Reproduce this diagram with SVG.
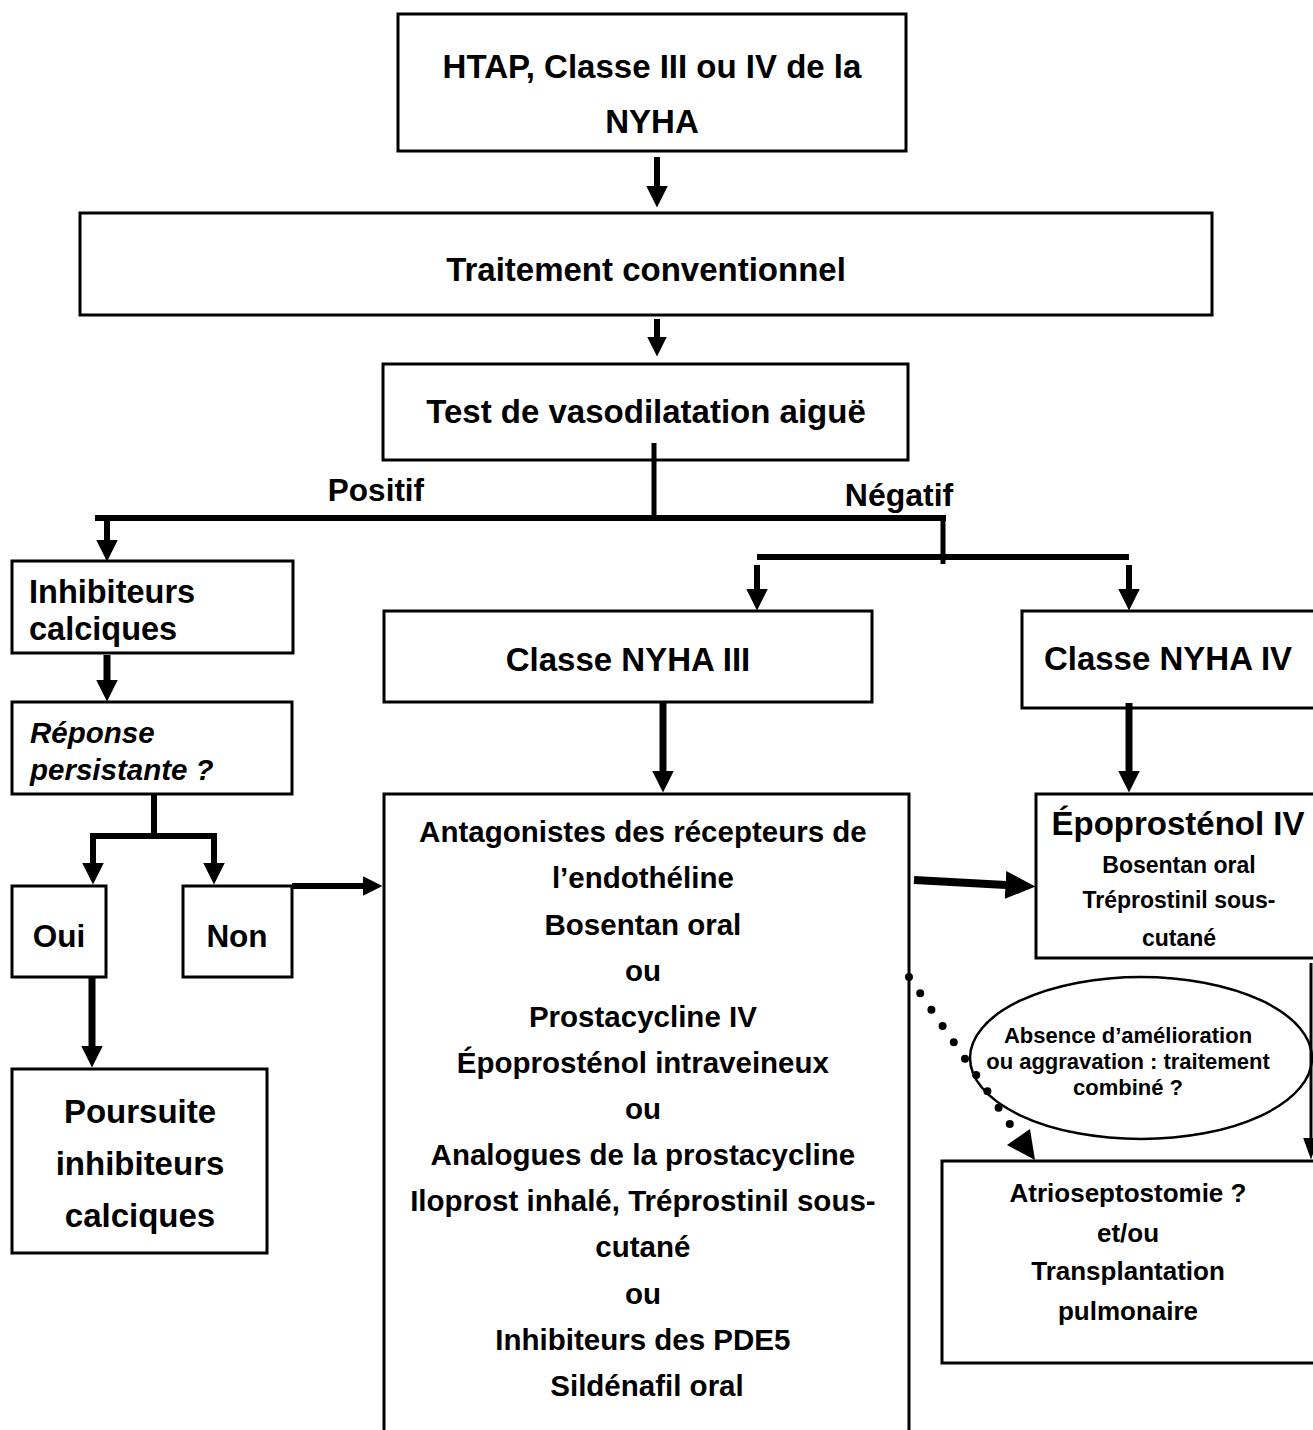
<svg xmlns="http://www.w3.org/2000/svg" width="1313" height="1430" viewBox="0 0 1313 1430">
<defs>
<style>
.box{fill:#fff;stroke:#000;stroke-width:3}
.t{font-family:"Liberation Sans",Arial,sans-serif;font-weight:bold;fill:#000}
.c{text-anchor:middle}
.ln{stroke:#000;fill:none}
</style>
<marker id="a22" markerUnits="userSpaceOnUse" markerWidth="23" markerHeight="23" refX="0.5" refY="11" orient="auto" viewBox="0 0 23 22"><path d="M0,0 L22,11 L0,22 z" fill="#000"/></marker>
<marker id="a20" markerUnits="userSpaceOnUse" markerWidth="21" markerHeight="21" refX="0.5" refY="10" orient="auto" viewBox="0 0 21 20"><path d="M0,0 L20,10 L0,20 z" fill="#000"/></marker>
<marker id="a30" markerUnits="userSpaceOnUse" markerWidth="31" markerHeight="29" refX="0.5" refY="14" orient="auto" viewBox="0 0 31 28"><path d="M0,0 L30,14 L0,28 z" fill="#000"/></marker>
<marker id="a16" markerUnits="userSpaceOnUse" markerWidth="23" markerHeight="17" refX="0.5" refY="8" orient="auto" viewBox="0 0 23 16"><path d="M0,0 L22,8 L0,16 z" fill="#000"/></marker>
</defs>
<rect width="1313" height="1430" fill="#fff"/>

<g id="n-htap"><rect class="box" x="398" y="14" width="508" height="137"/>
<text class="t c" x="652" y="78" font-size="33">HTAP, Classe III ou IV de la</text>
<text class="t c" x="652" y="133" font-size="33">NYHA</text></g>

<g id="n-traitement"><rect class="box" x="80" y="213" width="1132" height="102"/>
<text class="t c" x="646" y="281" font-size="33">Traitement conventionnel</text></g>

<g id="n-test"><rect class="box" x="383" y="364" width="525" height="96"/>
<text class="t c" x="646" y="423" font-size="33">Test de vasodilatation aiguë</text></g>

<g id="n-inhib"><rect class="box" x="12" y="561" width="281" height="92"/>
<text class="t" x="29" y="603" font-size="32.5">Inhibiteurs</text>
<text class="t" x="29" y="640" font-size="32.5">calciques</text></g>

<g id="n-reponse"><rect class="box" x="12" y="702" width="280" height="92"/>
<text class="t" x="30" y="743" font-size="29.5" font-style="italic">Réponse</text>
<text class="t" x="30" y="780" font-size="29.5" font-style="italic">persistante ?</text></g>

<g id="n-oui"><rect class="box" x="12" y="886" width="94" height="91"/>
<text class="t c" x="59" y="947" font-size="31.5">Oui</text></g>

<g id="n-non"><rect class="box" x="183" y="886" width="109" height="91"/>
<text class="t c" x="237" y="947" font-size="31.5">Non</text></g>

<g id="n-poursuite"><rect class="box" x="12" y="1069" width="255" height="184"/>
<text class="t c" x="140" y="1123" font-size="33">Poursuite</text>
<text class="t c" x="140" y="1175" font-size="33">inhibiteurs</text>
<text class="t c" x="140" y="1227" font-size="33">calciques</text></g>

<g id="n-nyha3"><rect class="box" x="384" y="611" width="488" height="91"/>
<text class="t c" x="628" y="671" font-size="33">Classe NYHA III</text></g>

<g id="n-nyha4"><rect class="box" x="1022" y="611" width="296" height="97"/>
<text class="t c" x="1168" y="670" font-size="33">Classe NYHA IV</text></g>

<g id="n-traitements"><rect class="box" x="384" y="794" width="525" height="660"/>
<text class="t c" font-size="29.5">
<tspan x="647" y="842">Antagonistes des récepteurs de</tspan>
<tspan x="647" y="888">l’endothéline</tspan>
<tspan x="647" y="935">Bosentan oral</tspan>
<tspan x="647" y="981">ou</tspan>
<tspan x="647" y="1027">Prostacycline IV</tspan>
<tspan x="647" y="1073">Époprosténol intraveineux</tspan>
<tspan x="647" y="1119">ou</tspan>
<tspan x="647" y="1165">Analogues de la prostacycline</tspan>
<tspan x="647" y="1211">Iloprost inhalé, Tréprostinil sous-</tspan>
<tspan x="647" y="1257">cutané</tspan>
<tspan x="647" y="1304">ou</tspan>
<tspan x="647" y="1350">Inhibiteurs des PDE5</tspan>
<tspan x="647" y="1396">Sildénafil oral</tspan>
</text></g>

<g id="n-epo"><rect class="box" x="1036" y="794" width="282" height="164"/>
<text class="t c" x="1178" y="835" font-size="33">Époprosténol IV</text>
<text class="t c" x="1179" y="873" font-size="23">Bosentan oral</text>
<text class="t c" x="1179" y="908" font-size="23">Tréprostinil sous-</text>
<text class="t c" x="1179" y="946" font-size="23">cutané</text></g>

<g id="n-absence"><ellipse cx="1141" cy="1058" rx="171" ry="81" fill="#fff" stroke="#000" stroke-width="2.5"/>
<text class="t c" x="1128" y="1043" font-size="22">Absence d’amélioration</text>
<text class="t c" x="1128" y="1069" font-size="22">ou aggravation : traitement</text>
<text class="t c" x="1128" y="1095" font-size="22">combiné ?</text></g>

<g id="n-atrio"><rect class="box" x="942" y="1161" width="376" height="202"/>
<text class="t c" x="1128" y="1202" font-size="26">Atrioseptostomie ?</text>
<text class="t c" x="1128" y="1242" font-size="26">et/ou</text>
<text class="t c" x="1128" y="1280" font-size="26">Transplantation</text>
<text class="t c" x="1128" y="1320" font-size="26">pulmonaire</text></g>

<g id="labels">
<text class="t c" x="376" y="501" font-size="31.5">Positif</text>
<text class="t c" x="899" y="506" font-size="32">Négatif</text>
</g>

<g id="connectors">
<line class="ln" x1="657" y1="157" x2="657" y2="186" stroke-width="6" marker-end="url(#a22)"/>
<line class="ln" x1="657" y1="319" x2="657" y2="337" stroke-width="6" marker-end="url(#a20)"/>
<line class="ln" x1="654" y1="443" x2="654" y2="518" stroke-width="5"/>
<line class="ln" x1="95" y1="518" x2="946" y2="518" stroke-width="6"/>
<line class="ln" x1="943" y1="515" x2="943" y2="564" stroke-width="5"/>
<line class="ln" x1="107" y1="518" x2="107" y2="540" stroke-width="6" marker-end="url(#a22)"/>
<line class="ln" x1="757" y1="557" x2="1129" y2="557" stroke-width="6"/>
<line class="ln" x1="757" y1="565" x2="757" y2="589" stroke-width="6" marker-end="url(#a22)"/>
<line class="ln" x1="1129" y1="565" x2="1129" y2="589" stroke-width="6" marker-end="url(#a22)"/>
<line class="ln" x1="663" y1="702" x2="663" y2="771" stroke-width="7" marker-end="url(#a22)"/>
<line class="ln" x1="1129" y1="703" x2="1129" y2="771" stroke-width="7" marker-end="url(#a22)"/>
<line class="ln" x1="107" y1="655" x2="107" y2="680" stroke-width="7" marker-end="url(#a22)"/>
<line class="ln" x1="154" y1="794" x2="154" y2="836" stroke-width="6"/>
<line class="ln" x1="90" y1="836" x2="217" y2="836" stroke-width="6"/>
<line class="ln" x1="93" y1="836" x2="93" y2="863" stroke-width="6" marker-end="url(#a22)"/>
<line class="ln" x1="214" y1="836" x2="214" y2="863" stroke-width="6" marker-end="url(#a22)"/>
<line class="ln" x1="92" y1="977" x2="92" y2="1046" stroke-width="7" marker-end="url(#a22)"/>
<line class="ln" x1="292" y1="886" x2="363" y2="886" stroke-width="6" marker-end="url(#a20)"/>
<line class="ln" x1="914" y1="880" x2="1006" y2="885" stroke-width="8" marker-end="url(#a30)"/>
<line class="ln" x1="1311" y1="963" x2="1311" y2="1138" stroke-width="3" marker-end="url(#a16)"/>
<line class="ln" x1="909" y1="977" x2="1016" y2="1133" stroke-width="8" stroke-linecap="round" stroke-dasharray="0 19.8"/>
<polygon points="1035,1160 1007,1145 1030,1129" fill="#000"/>
</g>
</svg>
